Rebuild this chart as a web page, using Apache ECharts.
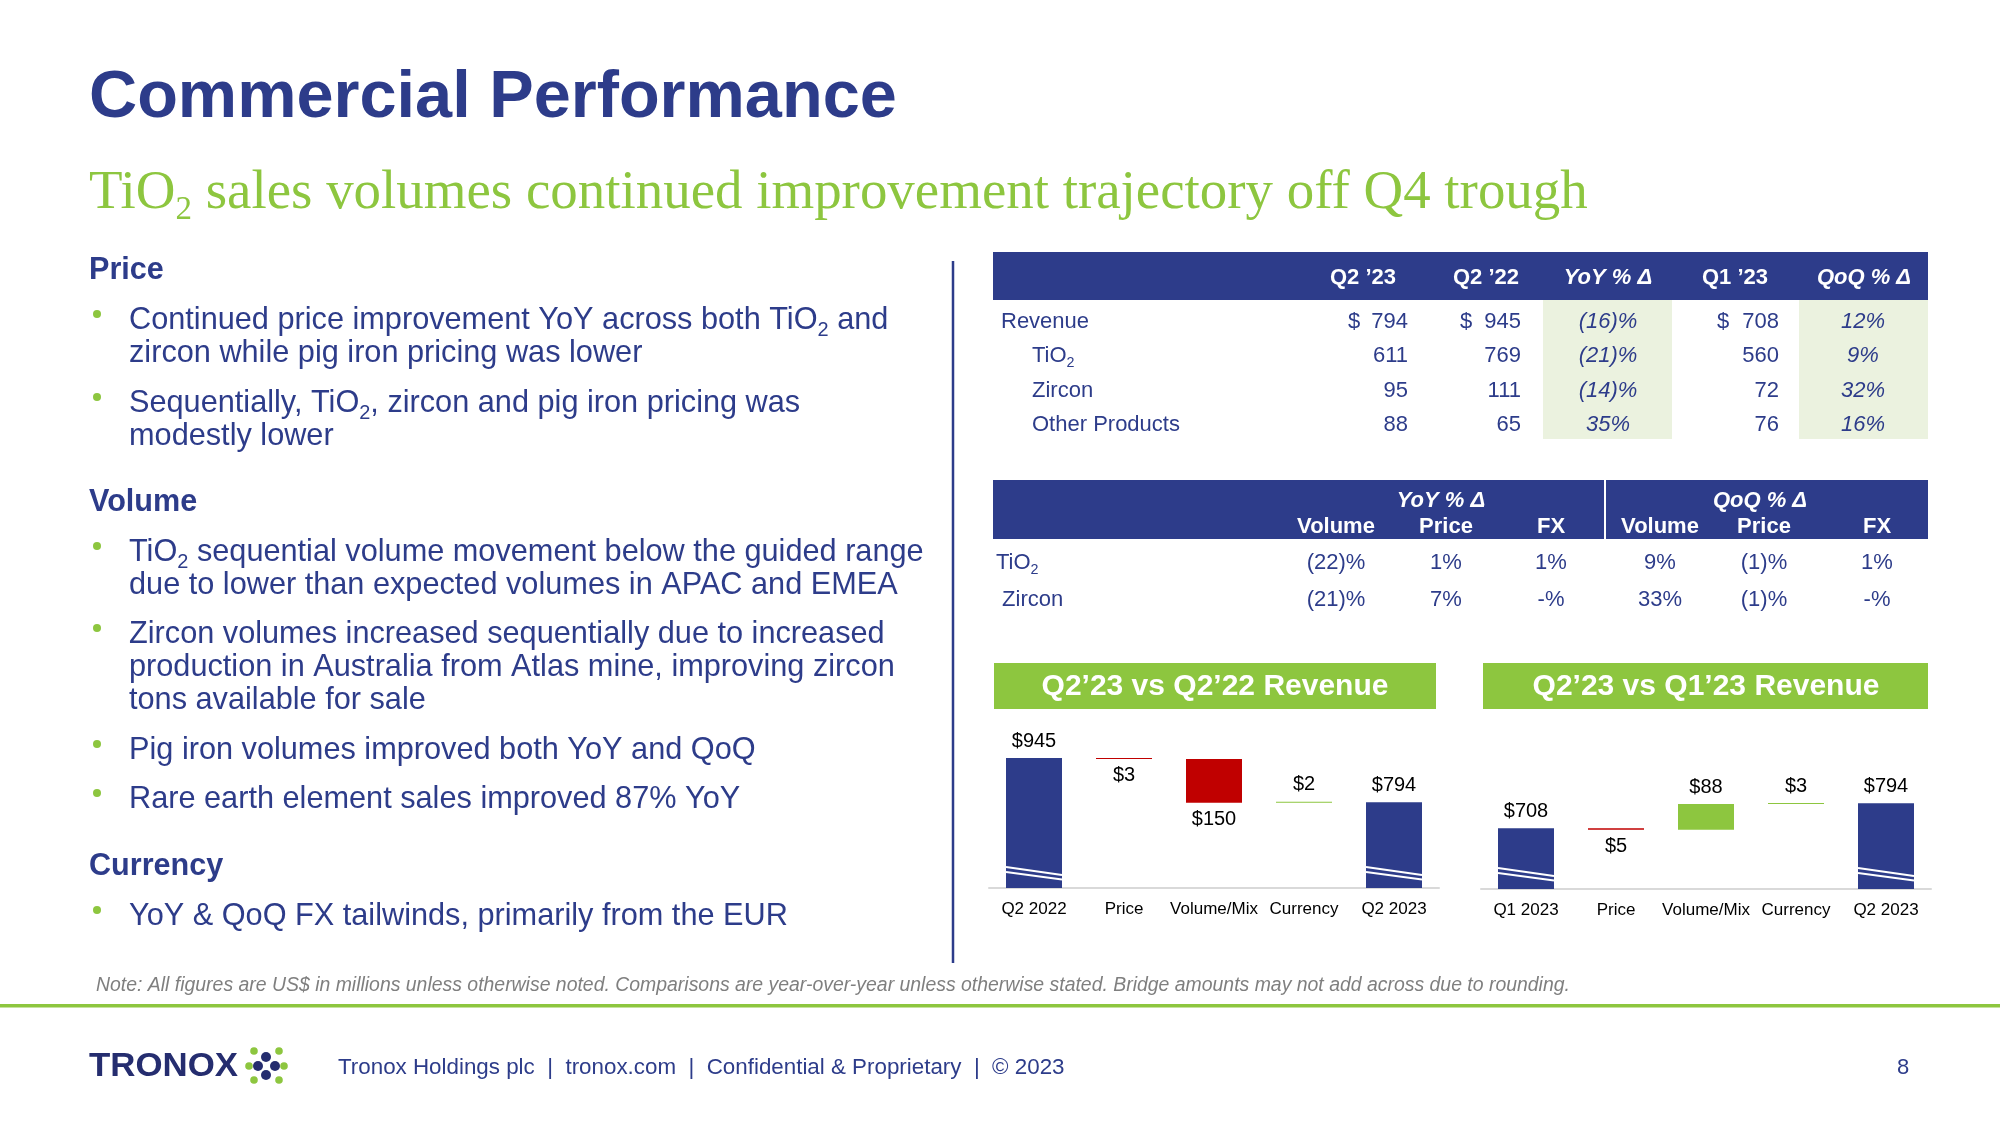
<!DOCTYPE html>
<html><head><meta charset="utf-8">
<script src="https://cdn.jsdelivr.net/npm/echarts@6.0.0/dist/echarts.min.js"></script>
<style>html,body{margin:0;padding:0;background:#fff}#c{width:2000px;height:1125px}</style>
</head><body><div id="c"></div>
<script>
// ---------------- DATA ----------------
const yoyCategories = ['Q2 2022', 'Price', 'Volume/Mix', 'Currency', 'Q2 2023'];
const yoyBridge = [945, -3, -150, 2, 794];
const qoqCategories = ['Q1 2023', 'Price', 'Volume/Mix', 'Currency', 'Q2 2023'];
const qoqBridge = [708, -5, 88, 3, 794];

const revenueHeaders = ['Q2 ’23', 'Q2 ’22', 'YoY % Δ', 'Q1 ’23', 'QoQ % Δ'];
const revenueRows = ['Revenue', 'TiO{2}', 'Zircon', 'Other Products'];
const revenueQ223 = [794, 611, 95, 88];
const revenueQ222 = [945, 769, 111, 65];
const revenueYoY = ['(16)%', '(21)%', '(14)%', '35%'];
const revenueQ123 = [708, 560, 72, 76];
const revenueQoQ = ['12%', '9%', '32%', '16%'];

const driverGroups = ['YoY % Δ', 'QoQ % Δ'];
const driverHeaders = ['Volume', 'Price', 'FX', 'Volume', 'Price', 'FX'];
const driverRows = ['TiO{2}', ' Zircon'];
const driverTiO2 = ['(22)%', '1%', '1%', '9%', '(1)%', '1%'];
const driverZircon = ['(21)%', '7%', '-%', '33%', '(1)%', '-%'];

// ---------------- STYLE / HELPERS ----------------
const NAVY = '#2D3C8A', GREEN = '#8DC63F', RED = '#C00000', LIGHTGREEN = '#EBF2DF';
const FONT = '"Liberation Sans", Arial, sans-serif';
const SERIF = '"Liberation Serif", "Times New Roman", serif';
const BAR_W = 56, BRIDGE_MIN = 500, BRIDGE_MAX = 1000;
const DY = 2;

const cv = document.createElement('canvas').getContext('2d');
function fontOf(size, o) { return (o.italic ? 'italic ' : '') + (o.bold ? 'bold ' : '') + size + 'px ' + (o.family || FONT); }
function measure(t, f) { cv.font = f; return cv.measureText(t).width; }
function splitParts(str) { return str.split(/(\{[^}]*\})/).filter(s => s.length); }
function widthOf(str, o, size) {
  const mf = fontOf(size, o), sf = fontOf(size * (o.subScale || 0.65), o);
  return splitParts(str).reduce((a, p) => a + (p[0] === '{' ? measure(p.slice(1, -1), sf) : measure(p, mf)), 0);
}
function fitSize(str, o, target) { return target / widthOf(str, o, 100) * 100; }

const G = [];
function txt(x, y, str, o) {
  o = o || {};
  y += DY;
  const size = o.size || 22;
  const parts = splitParts(str);
  const mf = fontOf(size, o), sf = fontOf(size * (o.subScale || 0.65), o);
  const ws = parts.map(p => p[0] === '{' ? measure(p.slice(1, -1), sf) : measure(p, mf));
  const total = ws.reduce((a, b) => a + b, 0);
  let cx = o.align === 'right' ? x - total : o.align === 'center' ? x - total / 2 : x;
  parts.forEach((p, i) => {
    const sub = p[0] === '{';
    G.push({ type: 'text', silent: true, z: 10, x: cx, y: y + (sub ? size * (o.subDy || 0.32) : 0),
      style: { text: sub ? p.slice(1, -1) : p, font: sub ? sf : mf, fill: o.color || NAVY,
        textAlign: 'left', textVerticalAlign: 'middle' } });
    cx += ws[i];
  });
}
function rect(x, y, w, h, fill) { G.push({ type: 'rect', silent: true, z: 1, shape: { x: x, y: y, width: w, height: h }, style: { fill: fill } }); }
function line(x1, y1, x2, y2, stroke, lw) { G.push({ type: 'line', silent: true, z: 2, shape: { x1: x1, y1: y1, x2: x2, y2: y2 }, style: { stroke: stroke, lineWidth: lw } }); }
function dot(cx, cy, r, fill) { G.push({ type: 'circle', silent: true, z: 2, shape: { cx: cx, cy: cy, r: r }, style: { fill: fill } }); }

// ---------------- TITLE ----------------
const titleStr = 'Commercial Performance';
txt(89, 97, titleStr, { bold: true, size: fitSize(titleStr, { bold: true }, 808) });
const subStr = 'TiO{2} sales volumes continued improvement trajectory off Q4 trough';
const subO = { family: SERIF, subScale: 0.6, subDy: 0.3, color: GREEN };
subO.size = fitSize(subStr, subO, 1499);
txt(89, 192, subStr, subO);

// ---------------- LEFT COLUMN ----------------
const BODY = 30.7;
const leftHeads = [['Price', 269], ['Volume', 501], ['Currency', 865]];
leftHeads.forEach(h => txt(89, h[1], h[0], { bold: true, size: 30.6 }));
const bullets = [
  [319, ['Continued price improvement YoY across both TiO{2} and', 'zircon while pig iron pricing was lower']],
  [402, ['Sequentially, TiO{2}, zircon and pig iron pricing was', 'modestly lower']],
  [551, ['TiO{2} sequential volume movement below the guided range', 'due to lower than expected volumes in APAC and EMEA']],
  [633, ['Zircon volumes increased sequentially due to increased', 'production in Australia from Atlas mine, improving zircon', 'tons available for sale']],
  [749, ['Pig iron volumes improved both YoY and QoQ']],
  [798, ['Rare earth element sales improved 87% YoY']],
  [915, ['YoY & QoQ FX tailwinds, primarily from the EUR']]
];
bullets.forEach(b => {
  dot(97, b[0] - 5, 4, GREEN);
  b[1].forEach((l, i) => txt(129, b[0] + i * 33, l, { size: BODY }));
});
line(953, 261, 953, 963, NAVY, 2.5);

// ---------------- REVENUE TABLE ----------------
rect(993, 252, 935, 48, NAVY);
rect(1543, 300, 129, 139, LIGHTGREEN);
rect(1799, 300, 129, 139, LIGHTGREEN);
const hdrX = [1363, 1486, 1608, 1735, 1864];
revenueHeaders.forEach((h, i) => txt(hdrX[i], 276, h, { bold: true, italic: i === 2 || i === 4, size: 22, color: '#fff', align: 'center' }));
const TS = 22;
revenueRows.forEach((r, i) => {
  const y = 320 + i * 34.3;
  txt(i === 0 ? 1001 : 1032, y, r, { size: TS });
  const dollar = i === 0;
  if (dollar) { txt(1348, y, '$', { size: TS }); txt(1460, y, '$', { size: TS }); txt(1717, y, '$', { size: TS }); }
  txt(1408, y, String(revenueQ223[i]), { size: TS, align: 'right' });
  txt(1521, y, String(revenueQ222[i]), { size: TS, align: 'right' });
  txt(1608, y, revenueYoY[i], { size: TS, italic: true, align: 'center' });
  txt(1779, y, String(revenueQ123[i]), { size: TS, align: 'right' });
  txt(1863, y, revenueQoQ[i], { size: TS, italic: true, align: 'center' });
});

// ---------------- DRIVER TABLE ----------------
rect(993, 480, 935, 59, NAVY);
line(1605, 480, 1605, 539, '#fff', 2);
txt(1441, 499, driverGroups[0], { bold: true, italic: true, size: TS, color: '#fff', align: 'center' });
txt(1760, 499, driverGroups[1], { bold: true, italic: true, size: TS, color: '#fff', align: 'center' });
const colX = [1336, 1446, 1551, 1660, 1764, 1877];
driverHeaders.forEach((h, i) => txt(colX[i], 525, h, { bold: true, size: TS, color: '#fff', align: 'center' }));
[driverTiO2, driverZircon].forEach((row, r) => {
  const y = 561 + r * 37;
  txt(996, y, driverRows[r], { size: TS });
  row.forEach((v, i) => txt(colX[i], y, v, { size: TS, align: 'center' }));
});

// ---------------- BRIDGE TITLES ----------------
rect(994, 663, 442, 46, GREEN);
rect(1483, 663, 445, 46, GREEN);
txt(1215, 685, 'Q2’23 vs Q2’22 Revenue', { bold: true, size: 30, color: '#fff', align: 'center' });
txt(1706, 685, 'Q2’23 vs Q1’23 Revenue', { bold: true, size: 30, color: '#fff', align: 'center' });

// ---------------- FOOTER ----------------
const noteStr = 'Note: All figures are US$ in millions unless otherwise noted. Comparisons are year-over-year unless otherwise stated. Bridge amounts may not add across due to rounding.';
txt(96, 984, noteStr, { italic: true, color: '#7F7F7F', size: fitSize(noteStr, { italic: true }, 1475) });
rect(0, 1004, 2000, 3.5, GREEN);
const logoFont = 'bold 34px ' + FONT;
G.push({ type: 'text', silent: true, z: 10, x: 89, y: 1067, scaleX: 149 / measure('TRONOX', logoFont),
  style: { text: 'TRONOX', font: logoFont, fill: '#252D6F', textAlign: 'left', textVerticalAlign: 'middle' } });
[[254, 1051], [279, 1051], [254, 1080], [279, 1080], [249, 1066], [284, 1066]].forEach(p => dot(p[0], p[1], 3.8, GREEN));
[[266, 1057], [258, 1066], [275, 1066], [266, 1075]].forEach(p => dot(p[0], p[1], 5, '#252D6F'));
const footStr = 'Tronox Holdings plc  |  tronox.com  |  Confidential & Proprietary  |  © 2023';
txt(338, 1066, footStr, { size: fitSize(footStr, {}, 727) });
txt(1903, 1066, '8', { size: 22, align: 'center' });

// ---------------- BRIDGE CHARTS ----------------
function breakMark(params, api) {
  const c = api.coord([api.value(0), BRIDGE_MIN]);
  const x0 = c[0] - BAR_W / 2, x1 = c[0] + BAR_W / 2, y = c[1];
  return { type: 'group', children: [
    { type: 'line', shape: { x1: x0, y1: y - 21, x2: x1, y2: y - 13 }, style: { stroke: '#fff', lineWidth: 1.8 } },
    { type: 'line', shape: { x1: x0, y1: y - 16, x2: x1, y2: y - 8.5 }, style: { stroke: '#fff', lineWidth: 1.8 } }
  ] };
}
function bridgeSeries(values, gi) {
  const n = values.length; let cum = 0; const base = [], bars = [];
  values.forEach((v, i) => {
    if (i === 0 || i === n - 1) {
      base.push(0);
      bars.push({ value: v, itemStyle: { color: NAVY }, label: { position: 'top', distance: 7 } });
      cum = v;
    } else {
      const nx = cum + v;
      base.push(Math.min(cum, nx));
      bars.push({ value: Math.abs(v), itemStyle: { color: v < 0 ? RED : GREEN },
        label: { position: v < 0 ? 'bottom' : 'top', distance: v < 0 ? 7 : 7 } });
      cum = nx;
    }
  });
  return [
    { type: 'bar', xAxisIndex: gi, yAxisIndex: gi, stack: 's' + gi, data: base, barWidth: BAR_W,
      itemStyle: { color: 'rgba(0,0,0,0)' }, silent: true },
    { type: 'bar', xAxisIndex: gi, yAxisIndex: gi, stack: 's' + gi, data: bars, barWidth: BAR_W, barMinHeight: 1,
      label: { show: true, fontSize: 20, color: '#000', fontFamily: FONT,
        formatter: p => '$' + Math.abs(values[p.dataIndex]) } },
    { type: 'custom', xAxisIndex: gi, yAxisIndex: gi, z: 5, silent: true,
      data: [[0, values[0]], [n - 1, values[n - 1]]], renderItem: breakMark }
  ];
}

const chart = echarts.init(document.getElementById('c'), null, { renderer: 'canvas' });
chart.setOption({
  animation: false,
  backgroundColor: '#fff',
  textStyle: { fontFamily: FONT },
  grid: [
    { left: 989, top: 742, width: 450, height: 146, outerBoundsMode: 'none', containLabel: false },
    { left: 1481, top: 743, width: 450, height: 146, outerBoundsMode: 'none', containLabel: false }
  ],
  xAxis: [yoyCategories, qoqCategories].map((cats, i) => ({
    type: 'category', gridIndex: i, data: cats,
    axisTick: { show: false },
    axisLine: { lineStyle: { color: '#D9D9D9', width: 2 } },
    axisLabel: { fontSize: 17, color: '#000', margin: 13, interval: 0, fontFamily: FONT }
  })),
  yAxis: [0, 1].map(i => ({ type: 'value', gridIndex: i, min: BRIDGE_MIN, max: BRIDGE_MAX, show: false, splitLine: { show: false } })),
  series: bridgeSeries(yoyBridge, 0).concat(bridgeSeries(qoqBridge, 1)),
  graphic: G
});
</script></body></html>
